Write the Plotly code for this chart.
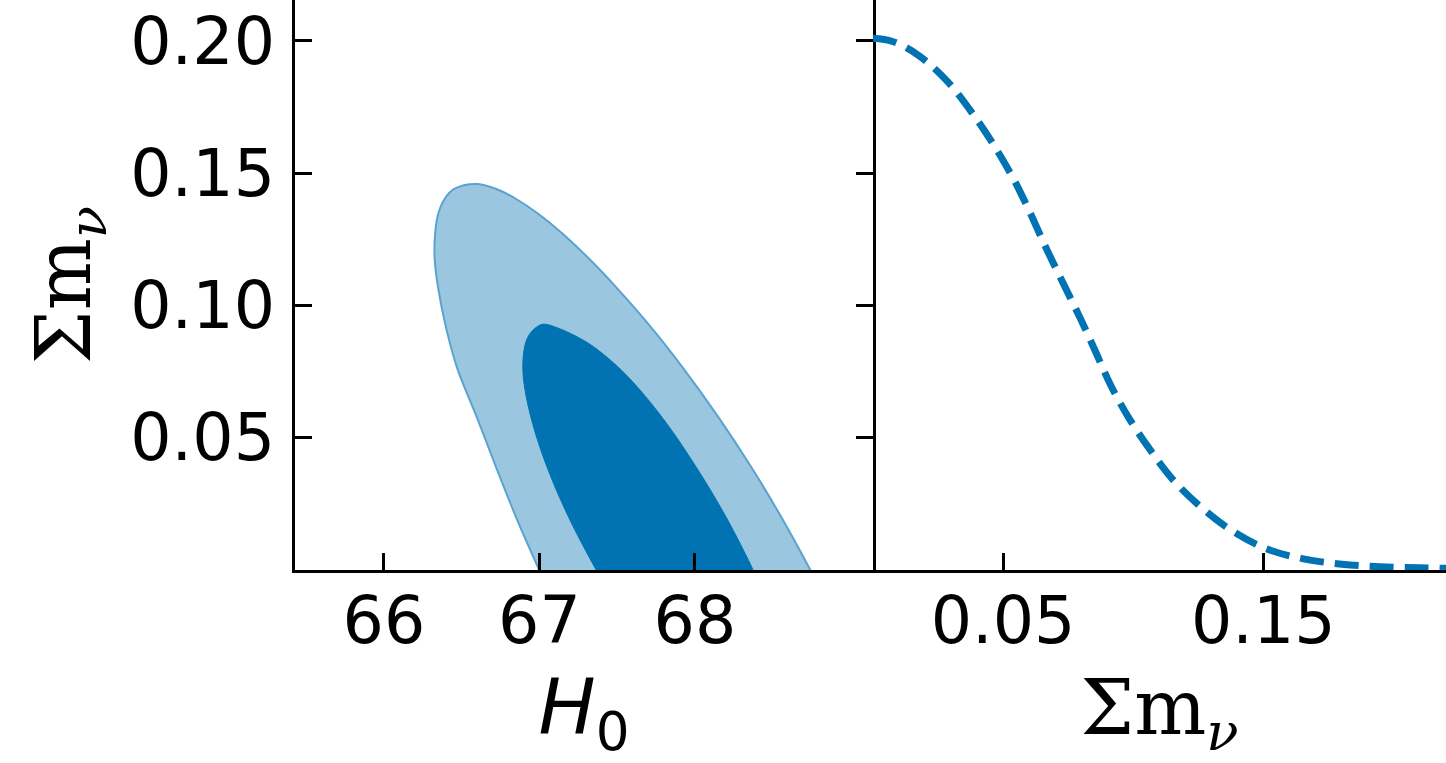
import plotly.graph_objects as go

# 2D marginal contours: H0 vs sum of neutrino masses (closed outlines,
# running up the left edge, over the top and down the right edge)
h0_outer = [67.075, 66.998, 66.850, 66.722, 66.599, 66.471, 66.400, 66.349, 66.326,
            66.329, 66.349, 66.390, 66.451, 66.593, 66.722, 66.850, 66.992, 67.149,
            67.318, 67.500, 67.722, 67.924, 68.154, 68.364, 68.556, 68.742, 68.831]
mnu_outer = [-0.0102, 0.0, 0.0199, 0.0387, 0.0575, 0.0763, 0.0914, 0.1064, 0.1177,
             0.1271, 0.1346, 0.1402, 0.1440, 0.1459, 0.1440, 0.1402, 0.1346, 0.1271,
             0.1177, 0.1064, 0.0914, 0.0763, 0.0575, 0.0387, 0.0199, 0.0, -0.0102]

h0_inner = [67.466, 67.365, 67.188, 67.050, 66.958, 66.905, 66.893, 66.907, 66.932,
            66.972, 67.024, 67.120, 67.223, 67.332, 67.493, 67.635, 67.824, 68.010,
            68.201, 68.374, 68.448]
mnu_inner = [-0.0102, 0.0, 0.0199, 0.0387, 0.0549, 0.0688, 0.0774, 0.0850, 0.0887,
             0.0914, 0.0929, 0.0914, 0.0887, 0.0850, 0.0774, 0.0688, 0.0549, 0.0387,
             0.0199, 0.0, -0.0102]

# 1D marginal posterior of the sum of neutrino masses (normalised to peak)
mnu_grid = [0.000, 0.0075, 0.0172, 0.0284, 0.0373, 0.0458, 0.0535, 0.0597, 0.0662,
            0.0728, 0.0797, 0.0855, 0.0913, 0.0983, 0.1068, 0.1156, 0.1261, 0.1376,
            0.1511, 0.1654, 0.1801, 0.1948, 0.2098, 0.2210]
mnu_post = [1.000, 0.994, 0.969, 0.920, 0.865, 0.804, 0.740, 0.679, 0.609,
            0.542, 0.473, 0.411, 0.348, 0.286, 0.224, 0.168, 0.118, 0.075,
            0.040, 0.021, 0.011, 0.006, 0.004, 0.003]

h0_ticks = [66, 67, 68]
mnu_yticks = [0.05, 0.10, 0.15, 0.20]
mnu_xticks = [0.05, 0.15]

BLUE = "#0173B2"
LIGHT = "#9AC7DF"
EDGE = "#5AA2D0"
W, H = 1446, 763

fig = go.Figure()

fig.add_trace(go.Scatter(
    x=h0_outer, y=mnu_outer, mode="lines", fill="toself", fillcolor=LIGHT,
    line=dict(color=EDGE, width=2, shape="spline", smoothing=1.0, simplify=False),
    xaxis="x", yaxis="y", hoverinfo="skip", showlegend=False))
fig.add_trace(go.Scatter(
    x=h0_inner, y=mnu_inner, mode="lines", fill="toself", fillcolor=BLUE,
    line=dict(color=BLUE, width=1, shape="spline", smoothing=1.0, simplify=False),
    xaxis="x", yaxis="y", hoverinfo="skip", showlegend=False))

fig.add_trace(go.Scatter(
    x=mnu_grid, y=mnu_post, mode="lines",
    line=dict(color=BLUE, width=7, dash="24px,11px", shape="spline",
              smoothing=1.0, simplify=False),
    xaxis="x2", yaxis="y2", hoverinfo="skip", showlegend=False))

tick_font = dict(family="DejaVu Sans", size=65, color="black")
left_x0, left_x1 = 295 / W, 873 / W
right_x0, right_x1 = 873 / W, 1.0
y_bottom = (H - 573) / H

axis_common = dict(showgrid=False, zeroline=False, showline=True, linecolor="black",
                   linewidth=3, ticks="inside", ticklen=17, tickwidth=3,
                   tickcolor="black", tickfont=tick_font)

fig.update_layout(
    width=W, height=H, margin=dict(l=0, r=0, t=0, b=0),
    paper_bgcolor="white", plot_bgcolor="white",
    xaxis=dict(axis_common, domain=[left_x0, left_x1], anchor="y",
               range=[65.428, 69.145], tickvals=h0_ticks, ticklabelstandoff=-8,
               title=dict(text="<i>H</i><sub>0</sub>",
                          font=dict(family="DejaVu Sans", size=76, color="black"),
                          standoff=52)),
    yaxis=dict(axis_common, domain=[y_bottom, 1.0], anchor="x",
               range=[0.0, 0.2154], tickvals=mnu_yticks, tickformat=".2f",
               mirror="ticks", ticklabelstandoff=4,
               title=dict(text="Σm<sub><i>ν</i></sub>",
                          font=dict(family="DejaVu Serif", size=76, color="black"),
                          standoff=15)),
    xaxis3=dict(overlaying="x", anchor="y", side="top", range=[65.428, 69.145],
                tickvals=h0_ticks, ticks="inside", ticklen=3, tickwidth=3,
                tickcolor="black", showticklabels=False, showline=False,
                showgrid=False, zeroline=False),
    xaxis2=dict(axis_common, domain=[right_x0, right_x1], anchor="y2",
                range=[0.0, 0.2202], tickvals=mnu_xticks, tickformat=".2f",
                ticklabelstandoff=-8,
                title=dict(text="Σm<sub><i>ν</i></sub>",
                           font=dict(family="DejaVu Serif", size=76, color="black"),
                           standoff=44)),
    yaxis2=dict(domain=[y_bottom, 1.0], anchor="x2", range=[0.0, 1.072],
                showgrid=False, zeroline=False, showline=False,
                ticks="", showticklabels=False),
)

fig.write_html("out.html")
